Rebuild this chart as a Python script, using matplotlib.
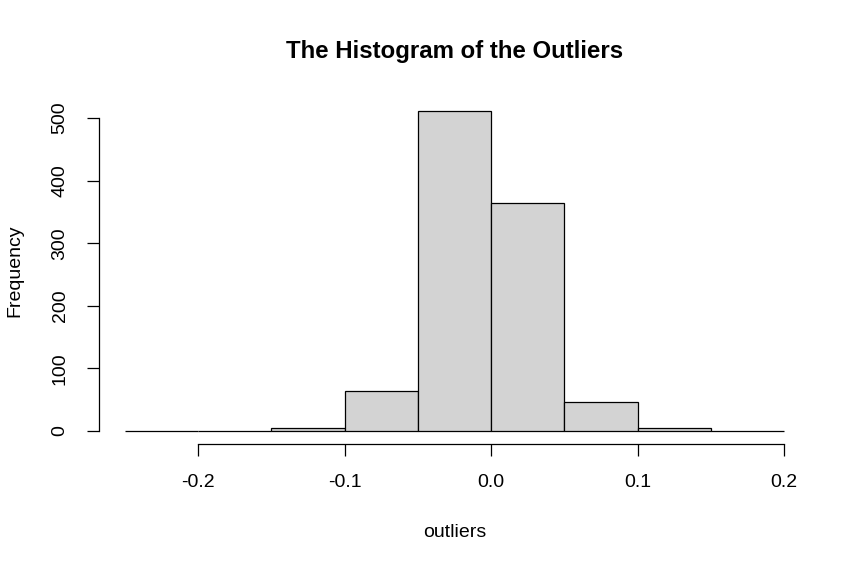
import matplotlib.pyplot as plt
import numpy as np

plt.rcParams['font.family'] = ['Liberation Sans', 'DejaVu Sans']

# histogram of the outliers, bin width 0.05
bin_edges = [-0.25, -0.2, -0.15, -0.1, -0.05, 0.0, 0.05, 0.1, 0.15, 0.2]
counts = [0, 0, 5, 64, 511, 364, 46, 5, 0]
x_ticks = [-0.2, -0.1, 0.0, 0.1, 0.2]
x_tick_labels = ['-0.2', '-0.1', '0.0', '0.1', '0.2']
y_ticks = [0, 100, 200, 300, 400, 500]

fig = plt.figure(figsize=(8.61, 5.67), dpi=100)
ax = fig.add_axes([0.1145, 0.2173, 0.8267, 0.6093])

lefts = np.array(bin_edges[:-1])
widths = np.diff(bin_edges)
ax.bar(lefts, counts, width=widths, align='edge', color='#d3d3d3',
       edgecolor='black', linewidth=0.9)

ax.set_xlim(-0.268, 0.218)
ax.set_ylim(-20.44, 531.44)

for s in ['top', 'right']:
    ax.spines[s].set_visible(False)
ax.spines['left'].set_bounds(0, 500)
ax.spines['bottom'].set_bounds(-0.2, 0.2)
ax.spines['left'].set_linewidth(0.9)
ax.spines['bottom'].set_linewidth(0.9)

ax.set_xticks(x_ticks)
ax.set_xticklabels(x_tick_labels)
ax.set_yticks(y_ticks)
ax.set_yticklabels([str(v) for v in y_ticks], rotation=90, va='center')
ax.tick_params(direction='out', length=8.6, width=0.9, labelsize=14, pad=13)

ax.set_xlabel('outliers', fontsize=14, labelpad=24)
ax.set_ylabel('Frequency', fontsize=14, labelpad=20)
ax.set_title('The Histogram of the Outliers', fontsize=17.3, fontweight='bold', pad=29)

fig.savefig('out.png', dpi=100)
